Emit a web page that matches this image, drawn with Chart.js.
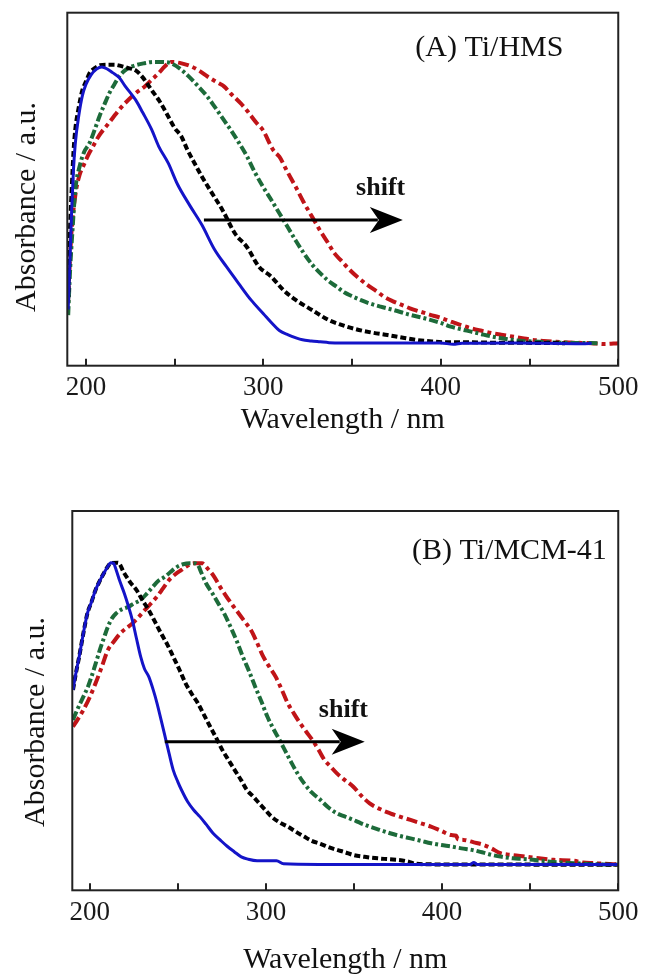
<!DOCTYPE html>
<html><head><meta charset="utf-8">
<script src="https://cdn.jsdelivr.net/npm/chart.js@4.4.1/dist/chart.umd.min.js"></script>
<style>
html,body{margin:0;padding:0;background:#fff;width:652px;height:975px;overflow:hidden}
canvas{position:absolute;left:0}
#cA{top:0}
#cB{top:470px}
</style></head><body>
<canvas id="cA" width="652" height="470"></canvas>
<canvas id="cB" width="652" height="505"></canvas>
<script>
// ---------- tick labels ----------
const xTickValues = [200, 250, 300, 350, 400, 450, 500];
const xTickLabels = ['200', '', '300', '', '400', '', '500'];

// ---------- Panel A : Ti/HMS  [wavelength nm, absorbance a.u.] ----------
const hmsBlue = [[190,0.12],[191,0.30],[192,0.48],[193,0.62],[194,0.71],[196,0.81],[198,0.88],[200,0.92],[203,0.955],[206,0.975],[209,0.982],[212,0.975],[215,0.962],[218.7,0.945],[222,0.915],[228,0.865],[232,0.82],[237,0.76],[241,0.70],[246.4,0.64],[251.6,0.565],[258.5,0.49],[265.4,0.42],[272.3,0.335],[279.2,0.272],[286,0.213],[293,0.154],[300,0.105],[305,0.07],[309,0.045],[314,0.03],[318,0.02],[322,0.012],[327,0.008],[332,0.005],[337,0.002],[345,0.001],[400,0.001],[407,-0.004],[412,0.0],[440,0.001],[480,-0.002],[485,0.0]];
const hmsBlack = [[190,0.15],[191,0.40],[192,0.55],[193,0.68],[194,0.76],[196,0.84],[198,0.90],[200,0.93],[202,0.96],[205,0.978],[208,0.988],[212,0.99],[216,0.99],[220,0.985],[224,0.978],[228,0.97],[232,0.945],[237,0.90],[241.5,0.86],[246.4,0.806],[250,0.765],[253.8,0.735],[257,0.69],[261.2,0.64],[265.4,0.592],[270,0.544],[277,0.473],[284,0.39],[290.6,0.343],[297.5,0.272],[304.4,0.237],[311.3,0.189],[318.2,0.154],[327.4,0.118],[336.6,0.083],[344,0.065],[352,0.05],[361,0.038],[370,0.029],[378,0.02],[387,0.011],[395,0.006],[405,0.003],[418,0.003],[429,0.002],[440,0.002],[452,0.001],[470,0.0]];
const hmsGreen = [[190,0.10],[191,0.25],[192.3,0.39],[194.1,0.55],[196.5,0.63],[199,0.68],[202,0.711],[205,0.76],[207.6,0.806],[210.5,0.85],[213.2,0.889],[216,0.92],[218.7,0.948],[222,0.97],[226,0.984],[233.5,0.996],[238,1.0],[242.5,1.0],[248,0.995],[253.8,0.972],[258.5,0.945],[263.3,0.913],[268,0.88],[272.4,0.842],[277,0.80],[281.5,0.759],[286,0.715],[290.7,0.665],[295,0.61],[299.8,0.556],[304.4,0.51],[309,0.462],[313.6,0.414],[318.2,0.365],[322.8,0.32],[327.4,0.28],[332,0.249],[336.6,0.222],[341.2,0.201],[345.8,0.18],[350.4,0.166],[355,0.153],[359.6,0.142],[366,0.13],[373.4,0.118],[382.6,0.101],[390,0.09],[394.1,0.083],[400,0.072],[405.6,0.059],[411,0.05],[417.1,0.041],[423,0.032],[428.6,0.024],[434,0.018],[440.1,0.012],[446,0.008],[451.6,0.006],[462,0.003],[475,0.001],[490,0.0]];
const hmsRed = [[190,0.17],[191.8,0.39],[194.1,0.53],[196.5,0.60],[198.4,0.628],[201,0.665],[203.9,0.699],[207.6,0.74],[211.3,0.77],[215,0.80],[218.7,0.83],[222,0.853],[228,0.889],[233,0.912],[237.1,0.937],[241,0.96],[244.4,0.984],[248,1.0],[253.9,0.995],[259.3,0.984],[264,0.968],[268.5,0.948],[274.6,0.925],[277.8,0.913],[281.5,0.888],[287,0.854],[290.6,0.828],[296.3,0.782],[299.8,0.757],[305.5,0.687],[309,0.663],[313.5,0.61],[318.2,0.556],[322.8,0.5],[327.4,0.45],[332,0.40],[336.6,0.355],[340,0.32],[343.5,0.296],[348,0.265],[352.7,0.237],[358,0.21],[364.2,0.183],[368,0.165],[373.4,0.148],[378,0.136],[382.6,0.124],[388,0.113],[394.1,0.101],[400,0.09],[405.6,0.077],[411,0.065],[417.1,0.053],[423,0.044],[428.6,0.036],[434,0.03],[440.1,0.024],[446,0.018],[451.6,0.012],[458,0.008],[465,0.005],[474.6,0.002],[485,0.0],[492,-0.003],[500,0.0]];

// ---------- Panel B : Ti/MCM-41 ----------
const mcmBlue = [[190.5,0.579],[192,0.63],[194,0.689],[196.5,0.77],[198.7,0.833],[201,0.87],[203.3,0.91],[205.7,0.94],[208,0.965],[210,0.985],[212,1.0],[213.5,0.998],[215,0.976],[217,0.94],[219.6,0.899],[222,0.855],[224.2,0.81],[226.5,0.75],[228.9,0.689],[231,0.65],[233.5,0.623],[236,0.58],[238.2,0.535],[240.5,0.48],[242.8,0.424],[245,0.37],[247.4,0.314],[250,0.275],[252.1,0.248],[255.5,0.21],[259,0.182],[262.5,0.16],[266,0.135],[270,0.105],[274,0.083],[278,0.062],[282,0.044],[286,0.027],[290,0.019],[295,0.014],[306,0.014],[310,0.004],[330,0.002],[400,0.002],[416,0.002],[418,0.008],[420,0.002],[500,0.002]];
const mcmBlack = [[190.5,0.579],[192,0.63],[194,0.689],[196.5,0.77],[198.7,0.833],[201,0.87],[203.3,0.91],[205.7,0.94],[208,0.965],[210,0.985],[212,0.998],[216,1.0],[219.6,0.965],[223,0.935],[226.5,0.91],[230,0.875],[233.5,0.843],[237,0.805],[240.5,0.766],[244,0.73],[247.4,0.689],[251,0.645],[254.4,0.601],[258,0.565],[261.4,0.535],[265,0.495],[268.3,0.458],[272,0.418],[275.3,0.38],[279,0.345],[282.3,0.314],[286,0.28],[289.2,0.248],[293,0.225],[296.2,0.204],[300,0.18],[303.2,0.16],[308,0.14],[312.4,0.127],[317,0.11],[321.7,0.094],[326,0.08],[331,0.07],[336,0.058],[340.3,0.05],[345,0.042],[349.6,0.033],[356,0.027],[363.5,0.022],[370,0.019],[377.4,0.015],[381,0.011],[385,0.004],[400,0.002],[430,0.002],[460,0.001],[500,0.001]];
const mcmGreen = [[190.5,0.48],[193,0.515],[196.4,0.557],[199,0.59],[201,0.623],[203.3,0.665],[205.7,0.711],[208,0.75],[210.3,0.788],[212.5,0.815],[214.9,0.832],[218,0.845],[221.9,0.854],[225,0.865],[228.9,0.877],[232,0.895],[235.9,0.921],[239,0.94],[242.8,0.954],[246,0.97],[249.8,0.987],[253,0.995],[256.7,0.998],[259,0.998],[261.4,0.992],[263.5,0.965],[266,0.932],[269.5,0.9],[273,0.865],[276.5,0.83],[279.9,0.788],[283.5,0.74],[286.9,0.689],[290.5,0.64],[293.9,0.59],[297.5,0.54],[300.8,0.491],[304.3,0.45],[307.8,0.413],[311.2,0.375],[314.7,0.336],[318.2,0.3],[321.7,0.27],[326,0.24],[331,0.215],[335.5,0.19],[340.3,0.171],[345,0.16],[349.6,0.149],[354,0.138],[358.9,0.127],[364.7,0.116],[370.5,0.105],[376,0.096],[382.1,0.088],[388,0.08],[393.7,0.072],[399.5,0.066],[405.3,0.061],[411,0.055],[416.9,0.05],[422.7,0.042],[428.5,0.033],[434,0.027],[440.1,0.022],[446,0.02],[451.7,0.017],[463,0.01],[474.9,0.006],[486,0.003],[498,0.0]];
const mcmRed = [[190.5,0.458],[193,0.48],[196.4,0.513],[200,0.555],[203.3,0.601],[206.8,0.655],[210.3,0.711],[213.8,0.74],[217.3,0.766],[220.7,0.783],[224.2,0.799],[227.7,0.82],[231.2,0.843],[234.7,0.865],[238.2,0.888],[241.6,0.915],[245.1,0.943],[248.6,0.962],[252.1,0.976],[255.5,0.99],[259,0.998],[263.7,0.998],[267,0.98],[270.6,0.954],[274,0.92],[277.6,0.888],[281,0.86],[284.6,0.832],[288,0.805],[291.5,0.777],[295,0.735],[298.5,0.689],[302,0.655],[305.5,0.623],[309,0.58],[312.4,0.535],[316,0.5],[319.4,0.469],[323,0.44],[326.4,0.413],[330,0.38],[333.3,0.347],[336.8,0.325],[340.3,0.303],[345,0.28],[349.6,0.259],[354,0.23],[358.9,0.204],[364.7,0.185],[370.5,0.171],[376,0.16],[382.1,0.149],[388,0.138],[393.7,0.127],[399.5,0.113],[405.3,0.099],[408,0.097],[409,0.085],[412.2,0.083],[418,0.075],[423.8,0.066],[428,0.055],[433.1,0.039],[440,0.033],[447,0.028],[455,0.022],[463.3,0.017],[474.9,0.014],[480,0.008],[486.5,0.006],[492,0.004],[500,0.002]];

// ---------- annotations (data coordinates) ----------
const panelLabels = ['(A) Ti/HMS', '(B) Ti/MCM-41'];
const labelPosA = [469.1, 1.022], labelPosB = [493.5, 1.012];
const shiftText = 'shift';
const shiftPosA = [366.1, 0.527], shiftPosB = [344, 0.49];
const arrowA = [266.5, 378.6, 0.438], arrowB = [242.6, 356.1, 0.408];
const xTitle = 'Wavelength / nm', yTitle = 'Absorbance / a.u.';

const SERIF = '"Liberation Serif", "Times New Roman", serif';
const styles = [
  {color: '#1414c8', dash: [], width: 3, order: 1},
  {color: '#000000', dash: [6, 3], width: 4, order: 2},
  {color: '#1d6b3a', dash: [9, 3, 3, 3], width: 4, order: 3},
  {color: '#c01418', dash: [11, 4, 4, 4], width: 4, order: 4}
];

const annotPlugin = {
  id: 'annot',
  afterDraw(chart, args, o) {
    const {ctx, chartArea: a, scales: {x, y}} = chart;
    ctx.save();
    ctx.strokeStyle = '#222'; ctx.lineWidth = 2;
    ctx.strokeRect(a.left, a.top, a.right - a.left, a.bottom - a.top);
    ctx.fillStyle = '#111';
    ctx.font = '30px ' + SERIF;
    ctx.textAlign = 'right'; ctx.textBaseline = 'alphabetic';
    ctx.fillText(o.label, x.getPixelForValue(o.labelPos[0]), y.getPixelForValue(o.labelPos[1]));
    ctx.font = 'bold 26px ' + SERIF;
    ctx.textAlign = 'center';
    ctx.fillText(shiftText, x.getPixelForValue(o.shiftPos[0]), y.getPixelForValue(o.shiftPos[1]));
    const x0 = x.getPixelForValue(o.arrow[0]), x1 = x.getPixelForValue(o.arrow[1]), yy = y.getPixelForValue(o.arrow[2]);
    const hl = 33, hw = 13;
    ctx.strokeStyle = '#000'; ctx.fillStyle = '#000'; ctx.lineWidth = 3;
    ctx.beginPath(); ctx.moveTo(x0, yy); ctx.lineTo(x1 - hl + 8, yy); ctx.stroke();
    ctx.beginPath(); ctx.moveTo(x1, yy); ctx.lineTo(x1 - hl, yy - hw); ctx.lineTo(x1 - hl + 9, yy); ctx.lineTo(x1 - hl, yy + hw); ctx.closePath(); ctx.fill();
    ctx.translate(o.yTitleX, o.yTitleY); ctx.rotate(-Math.PI / 2);
    ctx.fillStyle = '#111';
    ctx.font = '30px ' + SERIF; ctx.textAlign = 'center'; ctx.textBaseline = 'middle';
    ctx.fillText(yTitle, 0, 0);
    ctx.restore();
  }
};

function makeChart(id, series, p) {
  new Chart(document.getElementById(id), {
    type: 'line',
    data: {
      datasets: series.map((s, i) => ({
        data: s.map(([wl, ab]) => ({x: wl, y: ab})),
        borderColor: styles[i].color, borderDash: styles[i].dash, borderWidth: styles[i].width,
        order: styles[i].order, pointRadius: 0, fill: false, cubicInterpolationMode: 'monotone',
        borderCapStyle: 'butt'
      }))
    },
    options: {
      responsive: false, animation: false, devicePixelRatio: 1,
      layout: {padding: p.padding},
      plugins: {legend: {display: false}, tooltip: {enabled: false}, annot: p.annot},
      scales: {
        x: {
          type: 'linear', min: p.xmin, max: 500,
          afterBuildTicks: s => { s.ticks = xTickValues.map(v => ({value: v})); },
          afterFit: s => { s.height = p.xh; },
          border: {display: false},
          grid: {drawOnChartArea: false, drawTicks: true, tickLength: -7, color: '#222', lineWidth: 2},
          ticks: {autoSkip: false, maxRotation: 0, padding: 13.5, color: '#1a1a1a',
            font: {family: SERIF, size: 27},
            callback: v => { const k = xTickValues.indexOf(v); return k >= 0 ? xTickLabels[k] : ''; }},
          title: {display: true, text: xTitle, color: '#111', font: {family: SERIF, size: 30, lineHeight: 1},
            padding: {top: 0, bottom: p.titlePad}}
        },
        y: {type: 'linear', display: false, min: p.ymin, max: p.ymax}
      }
    },
    plugins: [annotPlugin]
  });
}

makeChart('cA', [hmsBlue, hmsBlack, hmsGreen, hmsRed], {
  xmin: 189.5, ymin: -0.080, ymax: 1.175, xh: 70, titlePad: 1,
  padding: {left: 67.3, top: 12.7, right: 24.3, bottom: 34.3},
  annot: {label: panelLabels[0], labelPos: labelPosA, shiftPos: shiftPosA, arrow: arrowA, yTitleX: 27.5, yTitleY: 207}
});
makeChart('cB', [mcmBlue, mcmBlack, mcmGreen, mcmRed], {
  xmin: 190.1, ymin: -0.0837, ymax: 1.171, xh: 84.5, titlePad: 0,
  padding: {left: 72.3, top: 41, right: 24.3, bottom: 0.2},
  annot: {label: panelLabels[1], labelPos: labelPosB, shiftPos: shiftPosB, arrow: arrowB, yTitleX: 36.5, yTitleY: 252}
});
</script>
</body></html>
